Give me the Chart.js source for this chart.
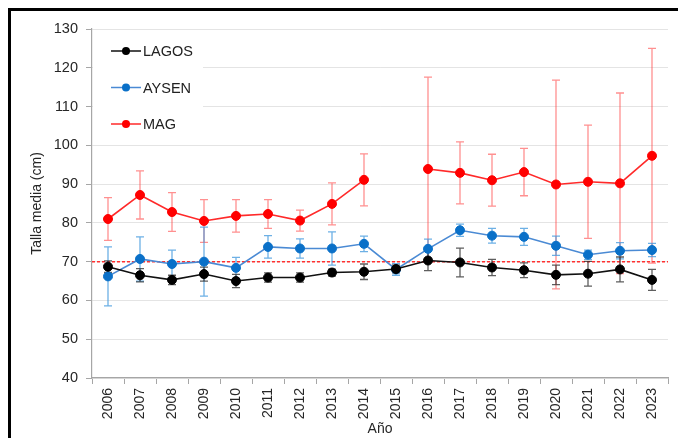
<!DOCTYPE html>
<html>
<head>
<meta charset="utf-8">
<script src="https://cdn.jsdelivr.net/npm/chart.js@4"></script>
<style>
    html, body { margin: 0; padding: 0; background: #fff; }
    #wrap { position: relative; width: 678px; height: 438px; overflow: hidden; }
    #frame {
        position: absolute; left: 8px; top: 8px; right: -10px; bottom: -10px;
        border-top: 3px solid #000; border-left: 3px solid #000;
    }
    canvas { position: absolute; left: 0; top: 0; }
</style>
</head>
<body>
<div id="wrap">
    <div id="frame"></div>
    <canvas id="talla" width="678" height="438"></canvas>
</div>
<script>
const years = ['2006', '2007', '2008', '2009', '2010', '2011', '2012', '2013', '2014',
    '2015', '2016', '2017', '2018', '2019', '2020', '2021', '2022', '2023'];

const lagosMean = [68.7, 66.5, 65.3, 66.8, 65.0, 65.9, 65.9, 67.2, 67.4, 68.1, 70.3, 69.8, 68.5, 67.8, 66.6, 66.9, 68.0, 65.3];
const lagosErr = [1.5, 1.7, 1.2, 1.8, 1.7, 1.2, 1.2, 0.9, 2.0, 1.0, 2.6, 3.7, 2.1, 1.9, 2.5, 3.2, 3.2, 2.7];

const aysenMean = [66.2, 70.7, 69.4, 70.0, 68.4, 73.8, 73.4, 73.4, 74.6, 68.0, 73.3, 78.1, 76.7, 76.4, 74.1, 71.8, 72.8, 73.0];
const aysenErr = [7.6, 5.7, 3.6, 8.9, 2.7, 2.9, 2.5, 4.3, 2.0, 1.5, 2.5, 1.6, 1.9, 2.2, 2.5, 1.2, 2.1, 1.7];

const magMean = [81.0, 87.2, 82.8, 80.5, 81.8, 82.3, 80.6, 84.9, 91.1, null, 93.9, 92.9, 91.0, 93.1, 89.9, 90.6, 90.2, 97.3];
const magErr = [5.5, 6.2, 5.0, 5.5, 4.2, 3.7, 2.7, 5.4, 6.7, null, 23.7, 8.0, 6.7, 6.1, 26.9, 14.6, 23.3, 27.7];

const refLine = 70;
const yTicks = [40, 50, 60, 70, 80, 90, 100, 110, 120, 130];

const FONT = '"Liberation Sans", Arial, sans-serif';

// error bars, reference line and the legend box, drawn under the series
const extrasPlugin = {
    id: 'extras',
    beforeDatasetsDraw (chart) {
        const { ctx, chartArea, scales: { x, y } } = chart;
        ctx.save();

        // legend background hides the grid behind it
        ctx.fillStyle = '#fff';
        ctx.fillRect(chartArea.left + 1, chartArea.top + 1, 110, 105);

        // dashed reference line
        ctx.strokeStyle = '#ff3030';
        ctx.lineWidth = 1.5;
        ctx.setLineDash([3, 2]);
        ctx.beginPath();
        ctx.moveTo(chartArea.left, y.getPixelForValue(refLine));
        ctx.lineTo(chartArea.right, y.getPixelForValue(refLine));
        ctx.stroke();
        ctx.setLineDash([]);

        // error bars, last dataset first
        for (let d = chart.data.datasets.length - 1; d >= 0; d--) {
            const ds = chart.data.datasets[d];
            if (!ds.errorBars) continue;
            ctx.strokeStyle = ds.errorColor;
            ctx.lineWidth = 1.3;
            ds.data.forEach((v, i) => {
                const err = ds.errorBars[i];
                if (v === null || err === null) return;
                const px = x.getPixelForValue(i);
                const top = y.getPixelForValue(v + err);
                const bot = y.getPixelForValue(v - err);
                ctx.beginPath();
                ctx.moveTo(px, top);
                ctx.lineTo(px, bot);
                ctx.moveTo(px - 4, top);
                ctx.lineTo(px + 4, top);
                ctx.moveTo(px - 4, bot);
                ctx.lineTo(px + 4, bot);
                ctx.stroke();
            });
        }
        ctx.restore();
    },
    afterDraw (chart) {
        const { ctx, chartArea } = chart;
        ctx.save();
        ctx.font = '14.5px ' + FONT;
        ctx.textBaseline = 'middle';
        chart.data.datasets.forEach((ds, i) => {
            const cy = chartArea.top + 22 + i * 36.5;
            const lx = chartArea.left + 19;
            ctx.strokeStyle = ds.borderColor;
            ctx.lineWidth = 1.5;
            ctx.beginPath();
            ctx.moveTo(lx, cy);
            ctx.lineTo(lx + 30, cy);
            ctx.stroke();
            ctx.fillStyle = ds.pointBackgroundColor;
            ctx.beginPath();
            ctx.arc(lx + 15, cy, 4, 0, Math.PI * 2);
            ctx.fill();
            ctx.fillStyle = '#222';
            ctx.fillText(ds.label, lx + 32, cy + 1);
        });
        ctx.restore();
    }
};

new Chart(
    document.getElementById('talla'),
    {
        type: 'line',
        data: {
            labels: years,
            datasets: [
                {
                    label: 'LAGOS',
                    data: lagosMean,
                    errorBars: lagosErr,
                    errorColor: 'rgba(40, 40, 40, 0.75)',
                    borderColor: '#111',
                    pointBackgroundColor: '#000',
                    pointBorderColor: '#000'
                },
                {
                    label: 'AYSEN',
                    data: aysenMean,
                    errorBars: aysenErr,
                    errorColor: 'rgba(60, 150, 220, 0.75)',
                    borderColor: '#4a8ad4',
                    pointBackgroundColor: '#0a70c8',
                    pointBorderColor: '#0a70c8'
                },
                {
                    label: 'MAG',
                    data: magMean,
                    errorBars: magErr,
                    errorColor: 'rgba(255, 70, 70, 0.6)',
                    borderColor: '#ff2a2a',
                    pointBackgroundColor: '#ff0000',
                    pointBorderColor: '#ff0000'
                }
            ]
        },
        options: {
            responsive: false,
            animation: false,
            spanGaps: false,
            layout: {
                padding: { left: 29, top: 29, right: 10, bottom: 0 }
            },
            elements: {
                line: { borderWidth: 1.6, tension: 0 },
                point: { radius: 4.5, borderWidth: 1, hoverRadius: 4.5 }
            },
            plugins: {
                legend: { display: false },
                tooltip: { enabled: false }
            },
            scales: {
                x: {
                    offset: true,
                    afterFit: (scale) => { scale.height = 60; },
                    grid: {
                        drawOnChartArea: false,
                        tickLength: 6,
                        tickColor: '#a6a6a6',
                        offset: true
                    },
                    border: { color: '#a6a6a6', width: 1.2 },
                    ticks: {
                        minRotation: 90,
                        maxRotation: 90,
                        padding: 4,
                        color: '#262626',
                        font: { family: FONT, size: 14 }
                    },
                    title: {
                        display: true,
                        text: 'Año',
                        color: '#262626',
                        padding: { top: 0, bottom: 0 },
                        font: { family: FONT, size: 14 }
                    }
                },
                y: {
                    min: 40,
                    max: 130,
                    afterFit: (scale) => { scale.width = 63; },
                    afterBuildTicks: (scale) => {
                        scale.ticks = yTicks.map(v => ({ value: v }));
                    },
                    grid: {
                        color: '#e4e4e4',
                        tickColor: '#a6a6a6',
                        tickLength: 6
                    },
                    border: { color: '#a6a6a6', width: 1.2 },
                    ticks: {
                        padding: 8,
                        color: '#262626',
                        font: { family: FONT, size: 14.5 }
                    },
                    title: {
                        display: true,
                        text: 'Talla media (cm)',
                        color: '#262626',
                        padding: { top: 0, bottom: 0 },
                        font: { family: FONT, size: 14 }
                    }
                }
            }
        },
        plugins: [extrasPlugin]
    }
);
</script>
</body>
</html>
